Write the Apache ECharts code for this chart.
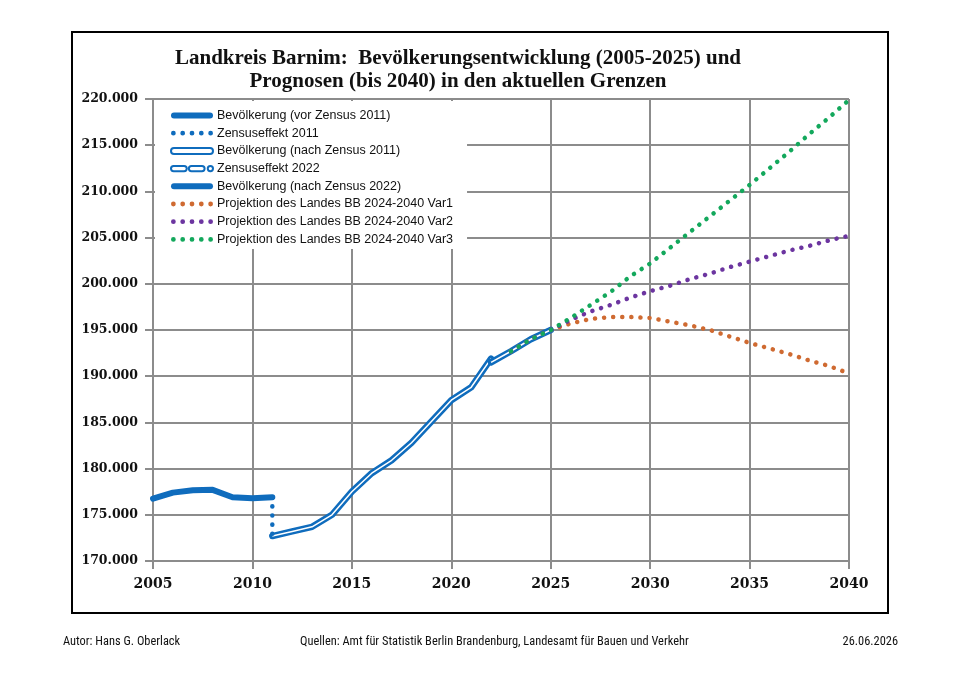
<!DOCTYPE html>
<html>
<head>
<meta charset="utf-8">
<title>Landkreis Barnim</title>
<script src="https://cdn.jsdelivr.net/npm/echarts@6/dist/echarts.min.js"></script>
<style>
  html, body { margin: 0; padding: 0; background: #fff; }
  #chart { width: 960px; height: 679px; }
</style>
</head>
<body>
<div id="chart"></div>
<script>
// Bevölkerung vor Zensus 2011
var years1 = [2005, 2006, 2007, 2008, 2009, 2010, 2011];
var pop1 = [176750, 177400, 177650, 177700, 176900, 176800, 176900];
// Zensuseffekt 2011
var zensus11Years = [2011, 2011];
var zensus11 = [176900, 172700];
// Bevölkerung nach Zensus 2011
var years2 = [2011, 2012, 2013, 2014, 2015, 2016, 2017, 2018, 2019, 2020, 2021, 2022];
var pop2 = [172700, 173200, 173700, 175000, 177500, 179500, 180900, 182800, 185100, 187400, 188800, 191900];
// Zensuseffekt 2022
var zensus22Years = [2022, 2022];
var zensus22 = [191900, 191500];
// Bevölkerung nach Zensus 2022
var years3 = [2022, 2023, 2024, 2025];
var pop3 = [191500, 192700, 194000, 195000];
// Projektionen
var projYears = [2023, 2024, 2025, 2026, 2027, 2028, 2029, 2030, 2031, 2032, 2033, 2034, 2035, 2036, 2037, 2038, 2039, 2040];
var var1 = [192700, 194000, 195000, 195700, 196200, 196400, 196400, 196300, 195900, 195500, 195000, 194300, 193600, 193000, 192400, 191700, 191100, 190300];
var var2 = [192700, 194000, 195000, 196100, 197000, 197700, 198500, 199200, 199800, 200500, 201100, 201800, 202400, 203000, 203600, 204100, 204700, 205200];
var var3 = [192700, 194000, 195000, 196300, 197700, 199100, 200800, 202200, 203900, 205600, 207300, 209000, 210700, 212500, 214300, 216200, 218000, 219900];

var names = [
    'Bevölkerung (vor Zensus 2011)',
    'Zensuseffekt 2011',
    'Bevölkerung (nach Zensus 2011)',
    'Zensuseffekt 2022',
    'Bevölkerung (nach Zensus 2022)',
    'Projektion des Landes BB 2024-2040 Var1',
    'Projektion des Landes BB 2024-2040 Var2',
    'Projektion des Landes BB 2024-2040 Var3'
];

var BLUE = '#0F6CBD';
var ORANGE = '#CF6A31';
var PURPLE = '#6C35A0';
var GREEN = '#13A85C';
var GRID = '#8C8C8C';
var FOOT_FONT = 'Liberation Sans Narrow, Roboto Condensed, Liberation Sans';

function pairs(xs, ys) {
    var out = [];
    for (var i = 0; i < xs.length; i++) out.push([xs[i], ys[i]]);
    return out;
}

// legend icons
var barIcon = 'path://M3,0 H39 A3,3 0 0 1 39,6 H3 A3,3 0 0 1 3,0 Z';
var dashIcon = 'path://M2.5,0 H12.5 A2.5,2.5 0 0 1 12.5,5 H2.5 A2.5,2.5 0 0 1 2.5,0 Z' +
    ' M19.5,0 H29.5 A2.5,2.5 0 0 1 29.5,5 H19.5 A2.5,2.5 0 0 1 19.5,0 Z' +
    ' M37.5,0 A2.5,2.5 0 1 1 37.5,5 A2.5,2.5 0 1 1 37.5,0 Z';
function dotIcon() {
    var p = 'path://';
    var r = 2.3;
    for (var i = 0; i < 5; i++) {
        var cx = r + i * 9;
        p += 'M' + (cx - r) + ',' + r + ' A' + r + ',' + r + ' 0 1 0 ' + (cx + r) + ',' + r +
            ' A' + r + ',' + r + ' 0 1 0 ' + (cx - r) + ',' + r + ' Z ';
    }
    return p;
}

function dotted(name, xs, ys, color) {
    return {
        name: name,
        type: 'line',
        data: pairs(xs, ys),
        symbol: 'none',
        silent: true,
        itemStyle: { color: color },
        lineStyle: { color: color, width: 4.5, type: [0.1, 9], cap: 'round' },
        z: 4
    };
}

// double line (blue with white core)
function doubleLine(name, xs, ys) {
    return [{
        name: name,
        type: 'line',
        data: pairs(xs, ys),
        symbol: 'none',
        itemStyle: { color: BLUE },
        lineStyle: { color: BLUE, width: 6.5, cap: 'round', join: 'round' },
        z: 3
    }, {
        name: name + ' inner',
        type: 'line',
        data: pairs(xs, ys),
        symbol: 'none',
        silent: true,
        lineStyle: { color: '#fff', width: 1.5, join: 'round' },
        z: 3
    }];
}

var myChart = echarts.init(document.getElementById('chart'));

var series = [
    {
        name: names[0],
        type: 'line',
        data: pairs(years1, pop1),
        symbol: 'none',
        itemStyle: { color: BLUE },
        lineStyle: { color: BLUE, width: 6, cap: 'round', join: 'round' },
        z: 3
    },
    dotted(names[1], zensus11Years, zensus11, BLUE)
];
series = series.concat(doubleLine(names[2], years2, pop2));
series.push({
    name: names[3],
    type: 'line',
    data: pairs(zensus22Years, zensus22),
    symbol: 'none',
    itemStyle: { color: BLUE },
    lineStyle: { color: BLUE, width: 5, type: 'dashed' },
    z: 3
});
series = series.concat(doubleLine(names[4], years3, pop3));
series.push(dotted(names[5], projYears, var1, ORANGE));
series.push(dotted(names[6], projYears, var2, PURPLE));
series.push(dotted(names[7], projYears, var3, GREEN));

var option = {
    backgroundColor: '#fff',
    animation: false,
    title: {
        text: 'Landkreis Barnim:  Bevölkerungsentwicklung (2005-2025) und\nPrognosen (bis 2040) in den aktuellen Grenzen',
        left: 453,
        top: 42,
        textAlign: 'center',
        textStyle: {
            fontFamily: 'Liberation Serif',
            fontWeight: 'bold',
            fontSize: 21,
            lineHeight: 23,
            color: '#111'
        }
    },
    grid: { left: 153, right: 111, top: 99, bottom: 118 },
    legend: {
        orient: 'vertical',
        left: 155,
        top: 101,
        padding: [8, 14, 3, 15],
        backgroundColor: '#fff',
        itemWidth: 42,
        itemHeight: 12,
        itemGap: 4.7,
        selectedMode: false,
        textStyle: { fontFamily: 'Liberation Sans', fontSize: 12.5, color: '#111', padding: [0, 0, 0, -1] },
        data: [
            { name: names[0], icon: barIcon, itemStyle: { color: BLUE } },
            { name: names[1], icon: dotIcon(), itemStyle: { color: BLUE } },
            { name: names[2], icon: barIcon, itemStyle: { color: '#fff', borderColor: BLUE, borderWidth: 2 } },
            { name: names[3], icon: dashIcon, itemStyle: { color: '#fff', borderColor: BLUE, borderWidth: 2 } },
            { name: names[4], icon: barIcon, itemStyle: { color: BLUE } },
            { name: names[5], icon: dotIcon(), itemStyle: { color: ORANGE } },
            { name: names[6], icon: dotIcon(), itemStyle: { color: PURPLE } },
            { name: names[7], icon: dotIcon(), itemStyle: { color: GREEN } }
        ]
    },
    xAxis: {
        type: 'value',
        min: 2005,
        max: 2040,
        interval: 5,
        axisLine: { show: true, onZero: false, lineStyle: { color: GRID, width: 2 } },
        axisTick: { show: true, length: 8, lineStyle: { color: GRID, width: 2 } },
        splitLine: { show: true, lineStyle: { color: GRID, width: 2 } },
        axisLabel: {
            margin: 16,
            fontFamily: 'DejaVu Serif',
            fontWeight: 'bold',
            fontSize: 14,
            color: '#111',
            formatter: function(v) { return String(v); }
        }
    },
    yAxis: {
        type: 'value',
        min: 170000,
        max: 220000,
        interval: 5000,
        axisLine: { show: true, lineStyle: { color: GRID, width: 2 } },
        axisTick: { show: true, length: 8, lineStyle: { color: GRID, width: 2 } },
        splitLine: { show: true, lineStyle: { color: GRID, width: 2 } },
        axisLabel: {
            margin: 15,
            fontFamily: 'DejaVu Serif',
            fontWeight: 'bold',
            fontSize: 12.5,
            color: '#111',
            formatter: function(v) { return (v / 1000).toFixed(0) + '.000'; }
        }
    },
    series: series,
    graphic: [
        {
            type: 'rect',
            shape: { x: 72, y: 32, width: 816, height: 581 },
            style: { fill: 'none', stroke: '#000', lineWidth: 2 },
            silent: true
        },
        {
            type: 'text', left: 63, top: 636,
            style: { text: 'Autor: Hans G. Oberlack', fontFamily: FOOT_FONT, fontSize: 12.4, fill: '#111' }
        },
        {
            type: 'text', left: 300, top: 636,
            style: { text: 'Quellen: Amt für Statistik Berlin Brandenburg, Landesamt für Bauen und Verkehr', fontFamily: FOOT_FONT, fontSize: 12.4, fill: '#111' }
        },
        {
            type: 'text', right: 62, top: 636,
            style: { text: '26.06.2026', fontFamily: FOOT_FONT, fontSize: 12.4, fill: '#111' }
        }
    ]
};

myChart.setOption(option);
</script>
</body>
</html>
